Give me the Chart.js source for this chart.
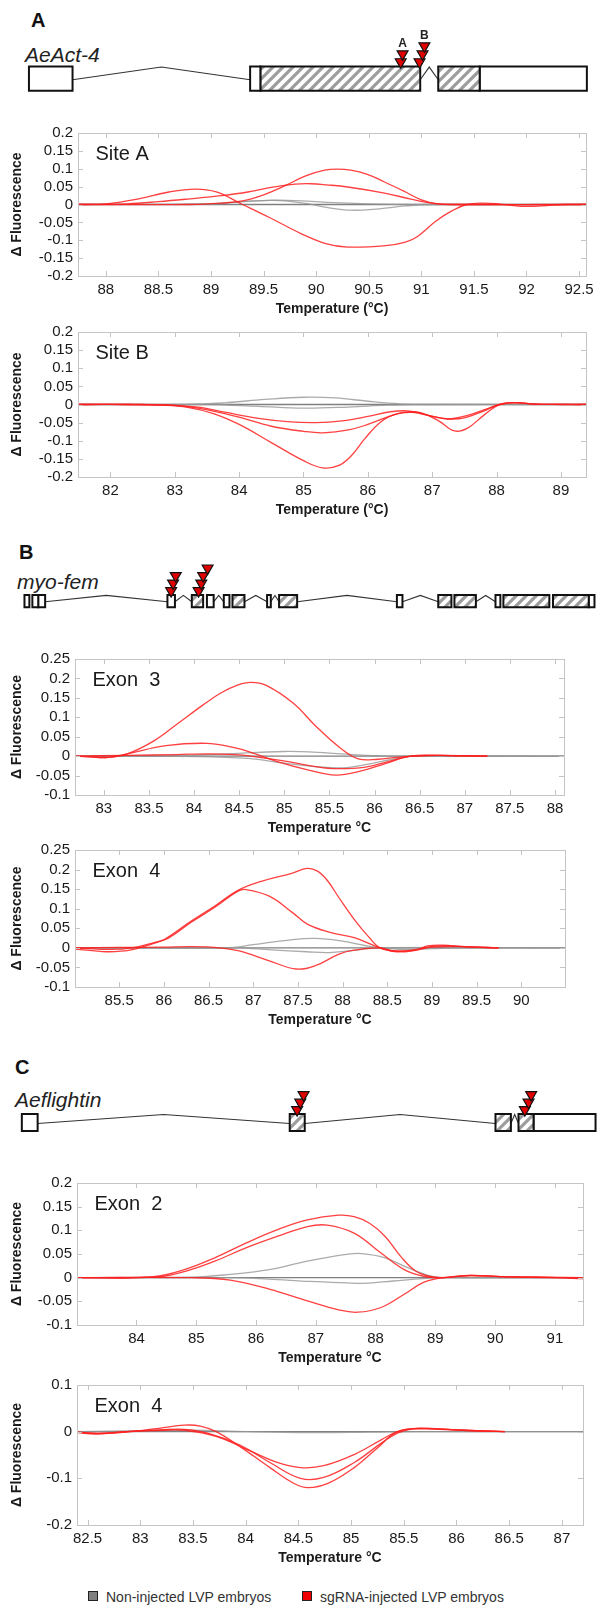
<!DOCTYPE html>
<html lang="en">
<head>
<meta charset="UTF-8">
<title>HRMA melt curves at CRISPR target sites</title>
<script src="https://cdn.jsdelivr.net/npm/chart.js"></script>
<style>
  body { margin: 0; background: #fff; font-family: Arial, "Liberation Sans", sans-serif; }
  #fig { position: relative; width: 605px; height: 1606px; overflow: hidden; }
  #fig canvas { position: absolute; left: 0; }
  .lbl { position: absolute; white-space: nowrap; line-height: 1; color: #111; }
  .panel { font-weight: bold; font-size: 20px; }
  .gene { font-style: italic; font-size: 21px; color: #222; }
  .key { position: absolute; top: 1589px; font-size: 14px; line-height: 16px; color: #333; white-space: nowrap; }
  .sw { position: absolute; top: 1591px; width: 8px; height: 8px; border: 1.5px solid #222; }
</style>
</head>
<body>
<div id="fig">
  <div class="lbl panel" style="left:31px; top:10px;">A</div>
  <div class="lbl gene" style="left:25px; top:44px;">AeAct-4</div>
  <div class="lbl panel" style="left:19px; top:542px;">B</div>
  <div class="lbl gene" style="left:17px; top:571px;">myo-fem</div>
  <div class="lbl panel" style="left:15px; top:1057px;">C</div>
  <div class="lbl gene" style="left:15px; top:1089px;">Aeflightin</div>

  <div class="sw" style="left:88px; background:#808080;"></div>
  <div class="key" style="left:106px;">Non-injected LVP embryos</div>
  <div class="sw" style="left:302px; background:#ee0000;"></div>
  <div class="key" style="left:320px;">sgRNA-injected LVP embryos</div>
</div>

<script>
// ---------- melt curve data: [temperature, delta fluorescence] ----------

// A, AeAct-4 site A
const siteA_red1 = [[87.74,0],[88.0,0.002],[88.3,0.015],[88.6,0.035],[88.85,0.043],[89.05,0.035],[89.3,0],[89.56,-0.037],[89.86,-0.082],[90.1,-0.11],[90.3,-0.119],[90.66,-0.115],[90.85,-0.105],[90.96,-0.09],[91.14,-0.046],[91.29,-0.018],[91.43,0],[91.58,0.004],[91.75,0.001],[91.95,-0.005],[92.15,-0.004],[92.35,0],[92.57,0]];
const siteA_red2 = [[87.74,0],[88.2,0.002],[88.5,0.008],[88.8,0.016],[89.1,0.025],[89.35,0.035],[89.6,0.049],[89.8,0.057],[89.95,0.058],[90.1,0.055],[90.3,0.049],[90.65,0.032],[90.9,0.015],[91.05,0.006],[91.2,0.001],[91.35,0],[92.57,0]];
const siteA_red3 = [[87.74,0],[88.8,0],[89.1,0.004],[89.3,0.01],[89.5,0.027],[89.7,0.052],[89.9,0.08],[90.08,0.096],[90.2,0.099],[90.33,0.096],[90.48,0.085],[90.65,0.063],[90.85,0.035],[91.0,0.013],[91.15,0.002],[91.3,0],[92.57,0]];
const siteA_gray1 = [[87.74,0],[89.0,0.002],[89.3,0.008],[89.6,0.012],[89.8,0.011],[90.1,0.006],[90.5,0.002],[91.0,0],[92.57,0]];
const siteA_gray2 = [[87.74,0],[89.0,0.002],[89.4,0.01],[89.65,0.011],[89.9,0.003],[90.1,-0.008],[90.33,-0.016],[90.6,-0.012],[90.85,-0.004],[91.1,0],[92.57,0]];
const siteA_ref = [[87.74,0],[92.57,0]];

// A, AeAct-4 site B
const siteB_red1 = [[81.5,0],[82.3,0],[82.8,-0.002],[83.2,-0.008],[83.6,-0.025],[84.0,-0.055],[84.5,-0.105],[85.0,-0.155],[85.3,-0.175],[85.55,-0.168],[85.75,-0.14],[85.95,-0.095],[86.2,-0.048],[86.45,-0.026],[86.7,-0.022],[87.0,-0.033],[87.25,-0.04],[87.5,-0.037],[87.8,-0.018],[88.05,0],[88.3,0.005],[88.6,0.001],[89.0,0],[89.39,0]];
const siteB_red2 = [[81.5,0],[82.3,0],[82.8,-0.001],[83.2,-0.006],[83.6,-0.018],[84.0,-0.035],[84.5,-0.06],[85.0,-0.074],[85.3,-0.078],[85.7,-0.07],[86.0,-0.055],[86.3,-0.035],[86.55,-0.022],[86.8,-0.022],[87.1,-0.045],[87.35,-0.073],[87.55,-0.065],[87.8,-0.03],[88.05,0],[88.3,0.005],[88.6,0.001],[89.39,0]];
const siteB_red3 = [[81.5,0],[82.5,0],[83.0,-0.002],[83.4,-0.008],[83.8,-0.022],[84.3,-0.038],[84.8,-0.048],[85.2,-0.05],[85.6,-0.045],[86.0,-0.033],[86.35,-0.02],[86.65,-0.018],[86.95,-0.03],[87.25,-0.04],[87.55,-0.03],[87.85,-0.012],[88.05,0],[88.25,0.005],[88.6,0.001],[89.39,0]];
const siteB_gray1 = [[81.5,0],[83.2,0],[83.8,0.005],[84.4,0.014],[85.0,0.02],[85.5,0.018],[86.0,0.009],[86.5,0.002],[87.0,0],[89.39,0]];
const siteB_gray2 = [[81.5,0],[83.5,0],[84.3,-0.005],[85.0,-0.01],[85.7,-0.007],[86.3,-0.002],[86.8,0],[89.39,0]];
const siteB_ref = [[81.5,0],[89.39,0]];

// B, myo-fem exon 3
const mfEx3_red1 = [[82.68,0],[82.85,-0.002],[83.05,-0.003],[83.26,0.006],[83.56,0.04],[83.82,0.084],[84.1,0.132],[84.3,0.163],[84.48,0.183],[84.63,0.19],[84.8,0.182],[85.1,0.136],[85.35,0.077],[85.61,0.023],[85.82,-0.007],[86.04,-0.008],[86.25,-0.003],[86.45,0],[86.7,0.002],[86.95,0.001],[87.25,0]];
const mfEx3_red2 = [[82.68,0],[82.85,-0.002],[83.05,-0.003],[83.26,0.006],[83.69,0.027],[84.14,0.033],[84.42,0.023],[84.63,0.01],[84.93,-0.015],[85.27,-0.036],[85.57,-0.049],[85.82,-0.04],[86.12,-0.019],[86.4,0],[86.7,0.002],[86.95,0.001],[87.25,0]];
const mfEx3_red3 = [[82.68,0],[83.26,0.002],[83.8,0.004],[84.16,0.006],[84.45,0.004],[84.63,0],[85.06,-0.015],[85.35,-0.027],[85.57,-0.032],[85.9,-0.028],[86.2,-0.011],[86.4,0],[86.7,0.002],[87.25,0]];
const mfEx3_gray1 = [[82.68,0],[83.8,0.001],[84.3,0.005],[85.0,0.012],[85.5,0.008],[85.9,0.002],[86.3,0],[88.1,0]];
const mfEx3_gray2 = [[82.68,0],[84.0,-0.001],[84.6,-0.006],[85.0,-0.018],[85.4,-0.028],[85.65,-0.03],[85.9,-0.022],[86.2,-0.008],[86.4,0],[88.1,0]];
const mfEx3_ref = [[82.68,0],[88.1,0]];

// B, myo-fem exon 4
const mfEx4_red1 = [[85.0,-0.003],[85.2,-0.007],[85.36,-0.01],[85.62,-0.006],[85.88,0.011],[86.01,0.022],[86.31,0.069],[86.57,0.107],[86.83,0.147],[87.09,0.17],[87.44,0.191],[87.6,0.203],[87.72,0.196],[87.83,0.172],[87.96,0.128],[88.13,0.073],[88.3,0.026],[88.42,0],[88.6,-0.008],[88.8,-0.005],[89.0,0.004],[89.2,0.005],[89.5,0.002],[89.75,0]];
const mfEx4_red2 = [[85.0,0],[85.4,-0.004],[85.65,0],[85.9,0.014],[86.05,0.025],[86.31,0.066],[86.57,0.104],[86.83,0.145],[86.92,0.149],[87.18,0.132],[87.44,0.09],[87.61,0.06],[87.87,0.039],[88.13,0.026],[88.3,0.011],[88.42,0],[88.6,-0.01],[88.8,-0.007],[89.0,0.002],[89.3,0.003],[89.75,0]];
const mfEx4_red3 = [[85.0,0],[85.5,0.001],[86.0,0.002],[86.31,0.003],[86.57,0.001],[86.83,-0.007],[87.18,-0.033],[87.48,-0.054],[87.7,-0.045],[87.96,-0.016],[88.13,-0.006],[88.42,0],[88.56,-0.008],[88.82,-0.006],[88.95,0.005],[89.13,0.007],[89.34,0.003],[89.73,0]];
const mfEx4_gray1 = [[85.0,0],[86.7,0],[87.0,0.008],[87.4,0.02],[87.7,0.024],[88.0,0.017],[88.25,0.006],[88.42,0],[88.7,-0.004],[89.0,-0.002],[89.3,0],[90.49,0]];
const mfEx4_gray2 = [[85.0,0],[86.8,0],[87.2,-0.005],[87.6,-0.01],[87.85,-0.012],[88.1,-0.007],[88.42,0],[90.49,0]];
const mfEx4_ref = [[85.0,0],[90.49,0]];

// C, Aeflightin exon 2
const flEx2_red1 = [[83.0,0],[83.31,0],[84.28,0.002],[84.8,0.017],[85.31,0.042],[85.83,0.073],[86.35,0.101],[86.86,0.122],[87.38,0.132],[87.64,0.129],[87.9,0.115],[88.16,0.087],[88.42,0.045],[88.67,0.014],[88.93,0.002],[89.13,0],[89.58,0.005],[90.1,0.002],[90.7,0.001],[91.2,0],[91.47,-0.002]];
const flEx2_red2 = [[83.0,0],[84.3,0.001],[84.8,0.013],[85.31,0.035],[85.83,0.063],[86.35,0.087],[86.86,0.108],[87.19,0.111],[87.64,0.094],[88.09,0.052],[88.48,0.017],[88.8,0.003],[89.1,0],[89.58,0.004],[90.1,0.002],[91.47,0]];
const flEx2_red3 = [[83.0,0],[84.92,0],[85.57,-0.005],[86.22,-0.024],[86.86,-0.049],[87.38,-0.068],[87.7,-0.073],[88.09,-0.063],[88.48,-0.035],[88.8,-0.01],[89.06,-0.001],[89.15,0],[89.58,0.005],[90.1,0.002],[91.0,0],[91.47,-0.002]];
const flEx2_gray1 = [[83.0,0],[84.92,0.001],[85.57,0.007],[86.22,0.017],[86.86,0.035],[87.51,0.049],[87.77,0.051],[88.16,0.042],[88.54,0.021],[88.93,0.003],[89.15,0],[91.47,0]];
const flEx2_gray2 = [[83.0,0],[85.5,0],[86.2,-0.003],[86.9,-0.008],[87.5,-0.011],[87.8,-0.012],[88.3,-0.007],[88.8,-0.002],[89.15,0],[91.47,0]];
const flEx2_ref = [[83.0,0],[91.47,0]];

// C, Aeflightin exon 4
const flEx4_red1 = [[82.4,-0.002],[82.58,-0.005],[82.87,-0.001],[83.13,0.006],[83.42,0.014],[83.57,0.012],[83.72,0],[83.94,-0.031],[84.23,-0.077],[84.45,-0.11],[84.59,-0.12],[84.78,-0.111],[85.03,-0.077],[85.25,-0.035],[85.44,0],[85.69,0.007],[86.06,0.003],[86.46,0]];
const flEx4_red2 = [[82.4,-0.001],[82.6,-0.004],[82.87,0],[83.2,0.004],[83.42,0.005],[83.64,-0.003],[83.94,-0.028],[84.23,-0.066],[84.52,-0.1],[84.74,-0.098],[85.03,-0.066],[85.29,-0.024],[85.44,-0.003],[85.58,0.006],[85.73,0.007],[86.06,0.003],[86.46,0]];
const flEx4_red3 = [[82.4,-0.001],[82.6,-0.003],[82.87,0],[83.2,0.003],[83.42,0.003],[83.72,-0.01],[84.01,-0.038],[84.3,-0.066],[84.52,-0.077],[84.74,-0.073],[85.03,-0.049],[85.29,-0.017],[85.44,0],[85.6,0.006],[86.06,0.003],[86.46,0]];
const flEx4_gray1 = [[82.4,0],[83.0,0.002],[83.5,0.003],[84.0,0],[84.6,-0.002],[85.2,-0.001],[85.6,0],[87.2,0]];
const flEx4_ref = [[82.4,0],[87.2,0]];

// ---------- gene models: exon [start, end, 'u' = UTR / 'c' = coding], introns, sgRNA sites ----------
const actExons = [[22,66.7,'u'],[248.8,259.3,'u'],[259.3,423.2,'c'],[441.7,484.2,'c'],[484.2,594.1,'u']];
const actIntrons = [[66.7,248.8],[423.2,441.7]];
const actSites = [{name:'A', x:[403.2,405.1]}, {name:'B', x:[422.5,425.6,427.5]}];

const mfExons = [[17.4,22.4,'u'],[25.5,31.5,'u'],[31.5,38.6,'u'],[164,171.7,'u'],[189,200.6,'c'],[204.5,211.4,'u'],
  [221.8,227.6,'u'],[230.7,243,'c'],[266.2,270,'u'],[278.5,297,'c'],[399.3,405,'u'],[441.7,455.2,'c'],[458.3,480.3,'c'],
  [500.4,505.4,'u'],[508.5,555.6,'c'],[559.4,596,'c'],[596,601.9,'u']];
const mfIntrons = [[38.6,164],[171.7,189],[211.4,221.8],[243,266.2],[270,278.5],[297,399.3],[405,441.7],[480.3,500.4]];
const mfSites = [{name:'', x:[167.8,169.8,172.5]}, {name:'', x:[196,198.7,200.6,205.2]}];

const flExons = [[14.7,30.9,'u'],[289.4,304.8,'c'],[500.4,516.2,'c'],[524,539.4,'c'],[539.4,603,'u']];
const flIntrons = [[30.9,289.4],[304.8,500.4],[516.2,524]];
const flSites = [{name:'', x:[297,300.2,303.6]}, {name:'', x:[530.5,534.3,537]}];

// ---------- drawing ----------
const W = 605;
Chart.defaults.font.family = 'Arial, "Liberation Sans", sans-serif';
Chart.defaults.color = '#1a1a1a';

function addCanvas(top, height) {
  const c = document.createElement('canvas');
  c.width = W;
  c.height = height;
  c.style.top = top + 'px';
  document.getElementById('fig').appendChild(c);
  return c;
}
const pts = a => a.map(p => ({x: p[0], y: p[1]}));
const fmt = v => String(+Number(v).toFixed(2));

// box, inward tick marks and the little panel tag
const plotFrame = {
  id: 'plotFrame',
  afterDatasetsDraw(chart, args, opts) {
    const {ctx, chartArea: a, scales: {x, y}} = chart;
    ctx.save();
    ctx.strokeStyle = '#c4c4c4';
    ctx.lineWidth = 1;
    ctx.strokeRect(a.left + 0.5, a.top + 0.5, a.right - a.left, a.bottom - a.top);
    ctx.beginPath();
    x.ticks.forEach(t => {
      const p = Math.round(x.getPixelForValue(t.value)) + 0.5;
      ctx.moveTo(p, a.top); ctx.lineTo(p, a.top + 5);
      ctx.moveTo(p, a.bottom); ctx.lineTo(p, a.bottom - 5);
    });
    y.ticks.forEach(t => {
      const p = Math.round(y.getPixelForValue(t.value)) + 0.5;
      ctx.moveTo(a.left, p); ctx.lineTo(a.left + 5, p);
      ctx.moveTo(a.right, p); ctx.lineTo(a.right - 5, p);
    });
    ctx.stroke();
    ctx.fillStyle = '#1a1a1a';
    ctx.font = '20px Arial, "Liberation Sans", sans-serif';
    ctx.textBaseline = 'middle';
    ctx.fillText(opts.tag, a.left + 17.5, a.top + 21);
    ctx.restore();
  }
};

function meltChart(L) {
  const padTop = 12, axisH = 44;
  const c = addCanvas(L.top - padTop, L.bottom - L.top + padTop + axisH);
  const datasets = [
    ...L.red.map(d => ({data: pts(d), borderColor: 'rgba(255,30,30,0.85)', borderWidth: 1.3})),
    ...L.gray.map(d => ({data: pts(d), borderColor: 'rgba(150,150,150,0.8)', borderWidth: 1.3})),
    {data: pts(L.ref), borderColor: '#7f7f7f', borderWidth: 1.4}
  ];
  new Chart(c, {
    type: 'line',
    data: {datasets},
    options: {
      responsive: false,
      animation: false,
      events: [],
      layout: {padding: {top: padTop, right: W - L.right, left: 0, bottom: 0}},
      elements: {
        point: {radius: 0},
        line: {tension: 0.4}
      },
      plugins: {legend: {display: false}, tooltip: {enabled: false}, plotFrame: {tag: L.tag}},
      scales: {
        x: {
          type: 'linear', min: L.xmin, max: L.xmax,
          grid: {display: false, drawTicks: false}, border: {display: false},
          ticks: {stepSize: L.xstep, includeBounds: false, autoSkip: false, maxRotation: 0, padding: 5,
                  font: {size: 15}, callback: fmt},
          title: {display: true, text: L.xTitle, font: {size: 14, weight: 'bold'}, padding: {top: 0, bottom: 2.6}},
          afterFit: s => { s.height = axisH; }
        },
        y: {
          type: 'linear', min: L.ymin, max: L.ymax,
          grid: {display: false, drawTicks: false}, border: {display: false},
          ticks: {stepSize: L.ystep, autoSkip: false, padding: 5, font: {size: 15}, callback: fmt},
          title: {display: true, text: 'Δ Fluorescence', font: {size: 14, weight: 'bold'}, padding: {top: 8.3, bottom: 0}},
          afterFit: s => { s.width = L.left; }
        }
      }
    },
    plugins: [plotFrame]
  });
}

function hatchTile() {
  const t = document.createElement('canvas');
  t.width = t.height = 10;
  const g = t.getContext('2d');
  g.fillStyle = '#fff';
  g.fillRect(0, 0, 10, 10);
  g.strokeStyle = '#9d9d9d';
  g.lineWidth = 3.2;
  g.beginPath();
  g.moveTo(-2, 12); g.lineTo(12, -2);
  g.moveTo(-2, 2); g.lineTo(2, -2);
  g.moveTo(8, 12); g.lineTo(12, 8);
  g.stroke();
  return t;
}

const siteText = {
  id: 'siteText',
  afterDatasetsDraw(chart, args, opts) {
    const {ctx, scales: {x, y}} = chart;
    ctx.save();
    ctx.fillStyle = '#222';
    ctx.font = 'bold 12px Arial, "Liberation Sans", sans-serif';
    ctx.textAlign = 'center';
    ctx.textBaseline = 'middle';
    opts.items.forEach(it => ctx.fillText(it.text, x.getPixelForValue(it.x), y.getPixelForValue(it.y)));
    ctx.restore();
  }
};

function geneChart(G) {
  const c = addCanvas(G.top, G.height);
  const pattern = c.getContext('2d').createPattern(hatchTile(), 'repeat');
  const lvl = k => 1 + (5.5 + 9.7 * k) / G.half;
  const markers = G.sites.map(s => ({
    data: s.x.map((x, k) => ({x, y: lvl(k)})),
    showLine: false, pointStyle: 'triangle', pointRotation: 180, pointRadius: 6.3,
    pointBackgroundColor: '#e00000', pointBorderColor: '#111', pointBorderWidth: 1.2
  }));
  const exons = G.exons.map(([s, e, kind]) => ({
    data: [{x: s, y: -1}, {x: e, y: -1}, {x: e, y: 1}, {x: s, y: 1}, {x: s, y: -1}, {x: e, y: -1}],
    fill: 'shape', backgroundColor: kind === 'c' ? pattern : '#fff',
    borderColor: '#111', borderWidth: 2
  }));
  const introns = G.introns.map(([s, e]) => ({
    data: [{x: s, y: -0.1}, {x: (s + e) / 2, y: 0.95}, {x: e, y: -0.1}],
    borderColor: '#333', borderWidth: 1.1
  }));
  const items = G.sites.filter(s => s.name).map(s => ({text: s.name, x: s.x[s.x.length - 1], y: lvl(s.x.length + 0.25)}));
  new Chart(c, {
    type: 'line',
    data: {datasets: [...markers, ...exons, ...introns]},
    options: {
      responsive: false,
      animation: false,
      events: [],
      layout: {padding: 0},
      elements: {point: {radius: 0}, line: {tension: 0}},
      plugins: {legend: {display: false}, tooltip: {enabled: false}, siteText: {items}},
      scales: {
        x: {type: 'linear', display: false, min: 0, max: W},
        y: {type: 'linear', display: false,
            min: -(G.top + G.height - G.center) / G.half, max: (G.center - G.top) / G.half}
      }
    },
    plugins: [siteText]
  });
}

// A
geneChart({top: 20, height: 85, center: 82, half: 14.7, exons: actExons, introns: actIntrons, sites: actSites});
meltChart({top: 131, bottom: 276, left: 78, right: 586, xmin: 87.735, xmax: 92.566, xstep: 0.5,
  ymin: -0.2, ymax: 0.2, ystep: 0.05, tag: 'Site A', xTitle: 'Temperature (°C)',
  red: [siteA_red1, siteA_red2, siteA_red3], gray: [siteA_gray1, siteA_gray2], ref: siteA_ref});
meltChart({top: 330, bottom: 477, left: 78, right: 586, xmin: 81.496, xmax: 89.39, xstep: 1,
  ymin: -0.2, ymax: 0.2, ystep: 0.05, tag: 'Site B', xTitle: 'Temperature (°C)',
  red: [siteB_red1, siteB_red2, siteB_red3], gray: [siteB_gray1, siteB_gray2], ref: siteB_ref});

// B
geneChart({top: 552, height: 68, center: 605.5, half: 7.8, exons: mfExons, introns: mfIntrons, sites: mfSites});
meltChart({top: 657, bottom: 795, left: 75, right: 564, xmin: 82.68, xmax: 88.1, xstep: 0.5,
  ymin: -0.1, ymax: 0.25, ystep: 0.05, tag: 'Exon  3', xTitle: 'Temperature °C',
  red: [mfEx3_red1, mfEx3_red2, mfEx3_red3], gray: [mfEx3_gray1, mfEx3_gray2], ref: mfEx3_ref});
meltChart({top: 848, bottom: 987, left: 75, right: 565, xmin: 85.005, xmax: 90.49, xstep: 0.5,
  ymin: -0.1, ymax: 0.25, ystep: 0.05, tag: 'Exon  4', xTitle: 'Temperature °C',
  red: [mfEx4_red1, mfEx4_red2, mfEx4_red3], gray: [mfEx4_gray1, mfEx4_gray2], ref: mfEx4_ref});

// C
geneChart({top: 1078, height: 66, center: 1126, half: 11, exons: flExons, introns: flIntrons, sites: flSites});
meltChart({top: 1181, bottom: 1325, left: 77, right: 583, xmin: 83.005, xmax: 91.47, xstep: 1,
  ymin: -0.1, ymax: 0.2, ystep: 0.05, tag: 'Exon  2', xTitle: 'Temperature °C',
  red: [flEx2_red1, flEx2_red2, flEx2_red3], gray: [flEx2_gray1, flEx2_gray2], ref: flEx2_ref});
meltChart({top: 1383, bottom: 1525, left: 77, right: 583, xmin: 82.4, xmax: 87.2, xstep: 0.5,
  ymin: -0.2, ymax: 0.1, ystep: 0.1, tag: 'Exon  4', xTitle: 'Temperature °C',
  red: [flEx4_red1, flEx4_red2, flEx4_red3], gray: [flEx4_gray1], ref: flEx4_ref});
</script>
</body>
</html>
